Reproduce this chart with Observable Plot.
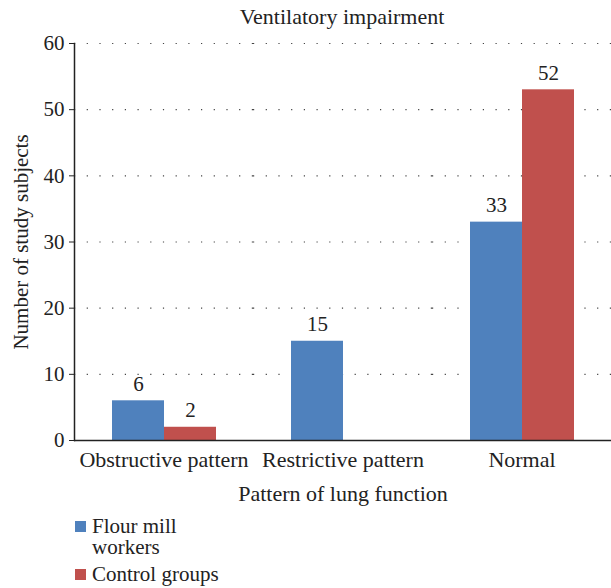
<!DOCTYPE html>
<html>
<head>
<meta charset="utf-8">
<script src="https://cdn.jsdelivr.net/npm/d3@7"></script>
<script src="https://cdn.jsdelivr.net/npm/@observablehq/plot@0.6"></script>
<style>
  html, body { margin: 0; padding: 0; background: #fff; }
  body { width: 611px; height: 588px; position: relative; overflow: hidden;
         font-family: "Liberation Serif", "DejaVu Serif", serif; color: #222; }
  #title { position: absolute; left: 73px; top: 0; width: 538px; height: 34px; line-height: 34px;
           text-align: center; font-size: 22px; z-index: 2; }
  #chart { position: absolute; left: 0; top: 24px; z-index: 1; }
  #legend { position: absolute; left: 75px; top: 516px; font-size: 21px; line-height: 21px; }
  .item { display: flex; align-items: flex-start; margin-bottom: 6px; }
  .sw { width: 11px; height: 11px; margin-top: 5px; margin-right: 6px; flex: none; }
  .lbl { width: 100px; }
</style>
</head>
<body>
<div id="title"></div>
<div id="chart"></div>
<div id="legend"></div>
<script>
const titleText = "Ventilatory impairment";
const categories = ["Obstructive pattern", "Restrictive pattern", "Normal"];
const series = ["Flour mill workers", "Control groups"];
const flourMill = [6, 15, 33];
const control = [2, null, 53];
const flourMillLabels = ["6", "15", "33"];
const controlLabels = ["2", null, "52"];
const colors = ["#4F81BD", "#C0504D"];
const yTicks = [0, 10, 20, 30, 40, 50, 60];
const yLabel = "Number of study subjects";
const xLabel = "Pattern of lung function";

const rows = [];
categories.forEach((c, i) => {
  rows.push({category: c, series: series[0], value: flourMill[i], label: flourMillLabels[i]});
  rows.push({category: c, series: series[1], value: control[i], label: controlLabels[i]});
});
const present = rows.filter(d => d.value != null);

document.getElementById("title").textContent = titleText;

const plot = Plot.plot({
  width: 611,
  height: 486,
  marginLeft: 73,
  marginRight: 0,
  marginTop: 19,
  marginBottom: 70,
  style: {fontFamily: "Liberation Serif", fontSize: "20px", color: "#222", background: "transparent"},
  fx: {domain: categories, padding: 0, label: null},
  x: {domain: series, paddingInner: 0, paddingOuter: 0.72, axis: null},
  y: {domain: [0, 60], label: null},
  color: {domain: series, range: colors},
  marks: [
    Plot.gridY(yTicks.filter(t => t > 0), {stroke: "#444", strokeOpacity: 1, strokeWidth: 1.2, strokeDasharray: "1.2,11.5"}),
    Plot.barY(present, {fx: "category", x: "series", y: "value", fill: "series"}),
    Plot.text(present.filter(d => d.label != null), {fx: "category", x: "series", y: "value", text: "label", dy: -17, fontSize: 21, fill: "#222"}),
    Plot.ruleY([0], {stroke: "#222", strokeWidth: 1.5}),
    Plot.frame({anchor: "left", facetAnchor: "left", stroke: "#222", strokeWidth: 1.5}),
    Plot.axisY({ticks: yTicks, tickSize: 5, tickPadding: 5, fontSize: 21, label: yLabel, labelAnchor: "center", labelOffset: 61, labelArrow: "none"}),
    Plot.axisFx({anchor: "bottom", tickSize: 0, tickPadding: 11, fontSize: 22, label: xLabel, labelAnchor: "center", labelOffset: 60, labelArrow: "none"})
  ]
});
document.getElementById("chart").appendChild(plot);

const legend = document.getElementById("legend");
series.forEach((s, i) => {
  const item = document.createElement("div");
  item.className = "item";
  const sw = document.createElement("div");
  sw.className = "sw";
  sw.style.background = colors[i];
  const lb = document.createElement("div");
  lb.className = "lbl";
  lb.textContent = s;
  if (i === 1) lb.style.width = "170px";
  item.appendChild(sw);
  item.appendChild(lb);
  legend.appendChild(item);
});
</script>
</body>
</html>
